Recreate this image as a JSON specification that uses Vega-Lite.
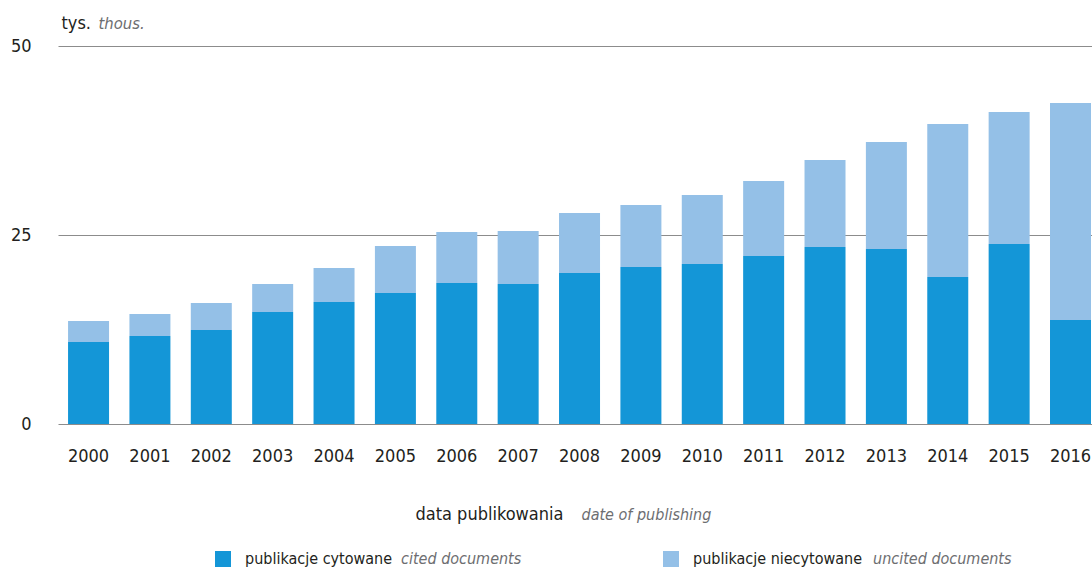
{
  "$schema": "https://vega.github.io/schema/vega-lite/v6.json",
  "width": 1034,
  "height": 378,
  "autosize": {"type": "none"},
  "padding": {"left": 58, "top": 46, "right": 0, "bottom": 146},
  "background": "white",
  "config": {"font": "'DejaVu Sans Condensed', 'Liberation Sans Narrow', Roboto, sans-serif", "view": {"stroke": null}},
  "data": {
    "values": [
      {"year": "2000", "pl": "publikacje cytowane", "en": "cited documents", "value": 10.85}, {"year": "2000", "pl": "publikacje niecytowane", "en": "uncited documents", "value": 2.77},
      {"year": "2001", "pl": "publikacje cytowane", "en": "cited documents", "value": 11.64}, {"year": "2001", "pl": "publikacje niecytowane", "en": "uncited documents", "value": 2.91},
      {"year": "2002", "pl": "publikacje cytowane", "en": "cited documents", "value": 12.43}, {"year": "2002", "pl": "publikacje niecytowane", "en": "uncited documents", "value": 3.57},
      {"year": "2003", "pl": "publikacje cytowane", "en": "cited documents", "value": 14.81}, {"year": "2003", "pl": "publikacje niecytowane", "en": "uncited documents", "value": 3.71},
      {"year": "2004", "pl": "publikacje cytowane", "en": "cited documents", "value": 16.14}, {"year": "2004", "pl": "publikacje niecytowane", "en": "uncited documents", "value": 4.49},
      {"year": "2005", "pl": "publikacje cytowane", "en": "cited documents", "value": 17.33}, {"year": "2005", "pl": "publikacje niecytowane", "en": "uncited documents", "value": 6.21},
      {"year": "2006", "pl": "publikacje cytowane", "en": "cited documents", "value": 18.65}, {"year": "2006", "pl": "publikacje niecytowane", "en": "uncited documents", "value": 6.75},
      {"year": "2007", "pl": "publikacje cytowane", "en": "cited documents", "value": 18.52}, {"year": "2007", "pl": "publikacje niecytowane", "en": "uncited documents", "value": 7.01},
      {"year": "2008", "pl": "publikacje cytowane", "en": "cited documents", "value": 19.97}, {"year": "2008", "pl": "publikacje niecytowane", "en": "uncited documents", "value": 7.94},
      {"year": "2009", "pl": "publikacje cytowane", "en": "cited documents", "value": 20.77}, {"year": "2009", "pl": "publikacje niecytowane", "en": "uncited documents", "value": 8.2},
      {"year": "2010", "pl": "publikacje cytowane", "en": "cited documents", "value": 21.16}, {"year": "2010", "pl": "publikacje niecytowane", "en": "uncited documents", "value": 9.13},
      {"year": "2011", "pl": "publikacje cytowane", "en": "cited documents", "value": 22.22}, {"year": "2011", "pl": "publikacje niecytowane", "en": "uncited documents", "value": 9.92},
      {"year": "2012", "pl": "publikacje cytowane", "en": "cited documents", "value": 23.41}, {"year": "2012", "pl": "publikacje niecytowane", "en": "uncited documents", "value": 11.51},
      {"year": "2013", "pl": "publikacje cytowane", "en": "cited documents", "value": 23.15}, {"year": "2013", "pl": "publikacje niecytowane", "en": "uncited documents", "value": 14.15},
      {"year": "2014", "pl": "publikacje cytowane", "en": "cited documents", "value": 19.44}, {"year": "2014", "pl": "publikacje niecytowane", "en": "uncited documents", "value": 20.24},
      {"year": "2015", "pl": "publikacje cytowane", "en": "cited documents", "value": 23.81}, {"year": "2015", "pl": "publikacje niecytowane", "en": "uncited documents", "value": 17.46},
      {"year": "2016", "pl": "publikacje cytowane", "en": "cited documents", "value": 13.76}, {"year": "2016", "pl": "publikacje niecytowane", "en": "uncited documents", "value": 28.7}
    ]
  },
  "layer": [
    {
      "mark": {"type": "bar"},
      "encoding": {
        "x": {
          "field": "year", "type": "nominal", "sort": null,
          "scale": {"paddingInner": 0.332, "paddingOuter": 0.09, "align": 0.91},
          "axis": {
            "orient": "bottom", "labelAngle": 0, "labelFontSize": 18, "labelColor": "#231f20",
            "ticks": false, "domain": false, "grid": false, "labelPadding": 23,
            "title": "data publikowania", "titleFontSize": 18, "titleFontWeight": "normal",
            "titleColor": "#231f20", "titleX": 357, "titleY": 95, "titleAlign": "left",
            "titleBaseline": "alphabetic"
          }
        },
        "y": {
          "field": "value", "type": "quantitative", "stack": "zero",
          "scale": {"domain": [0, 50]},
          "axis": {
            "orient": "left", "values": [0, 25, 50], "grid": true, "gridColor": "#8c8c8c",
            "gridWidth": 1, "ticks": false, "domain": false, "labelFontSize": 18,
            "labelPadding": 27, "labelColor": "#231f20",
            "title": "tys.", "titleAngle": 0, "titleX": 3, "titleY": -18, "titleAlign": "left",
            "titleBaseline": "alphabetic", "titleFontSize": 18, "titleFontWeight": "normal",
            "titleColor": "#231f20"
          }
        },
        "color": {
          "field": "pl", "type": "nominal",
          "scale": {"domain": ["publikacje cytowane", "publikacje niecytowane"], "range": ["#1496d7", "#94c0e7"]},
          "legend": {
            "orient": "none", "legendX": 157, "legendY": 505, "direction": "horizontal",
            "columns": 2, "title": null, "padding": 0, "symbolType": "square",
            "symbolSize": 256, "symbolStrokeWidth": 0, "symbolOpacity": 1,
            "labelFontSize": 16, "labelColor": "#231f20", "labelOffset": 14,
            "labelLimit": 400, "columnPadding": 270
          }
        },
        "order": {"field": "pl", "sort": "ascending"}
      }
    },
    {
      "mark": {"type": "point", "opacity": 0, "filled": true},
      "encoding": {
        "x": {
          "field": "year", "type": "nominal", "sort": null,
          "axis": {
            "orient": "bottom", "labels": false, "ticks": false, "domain": false, "grid": false,
            "title": "date of publishing", "titleFontSize": 16, "titleFontWeight": "normal",
            "titleFontStyle": "italic", "titleColor": "#6d6e71", "titleX": 523, "titleY": 95,
            "titleAlign": "left", "titleBaseline": "alphabetic"
          }
        },
        "y": {
          "field": "value", "type": "quantitative", "stack": null,
          "axis": {
            "orient": "left", "labels": false, "ticks": false, "domain": false, "grid": false,
            "title": "thous.", "titleAngle": 0, "titleX": 40, "titleY": -18, "titleAlign": "left",
            "titleBaseline": "alphabetic", "titleFontSize": 16.5, "titleFontWeight": "normal",
            "titleFontStyle": "italic", "titleColor": "#6d6e71"
          }
        },
        "shape": {
          "field": "en", "type": "nominal",
          "scale": {"domain": ["cited documents", "uncited documents"], "range": ["square", "square"]},
          "legend": {
            "orient": "none", "legendX": 327, "legendY": 505, "direction": "horizontal",
            "columns": 2, "title": null, "padding": 0, "symbolSize": 0, "symbolOpacity": 0,
            "symbolStrokeWidth": 0,
            "labelFontSize": 16, "labelFontStyle": "italic", "labelColor": "#6d6e71",
            "labelOffset": 0, "labelLimit": 400, "columnPadding": 335
          }
        }
      }
    }
  ],
  "resolve": {"axis": {"x": "independent", "y": "independent"}}
}
